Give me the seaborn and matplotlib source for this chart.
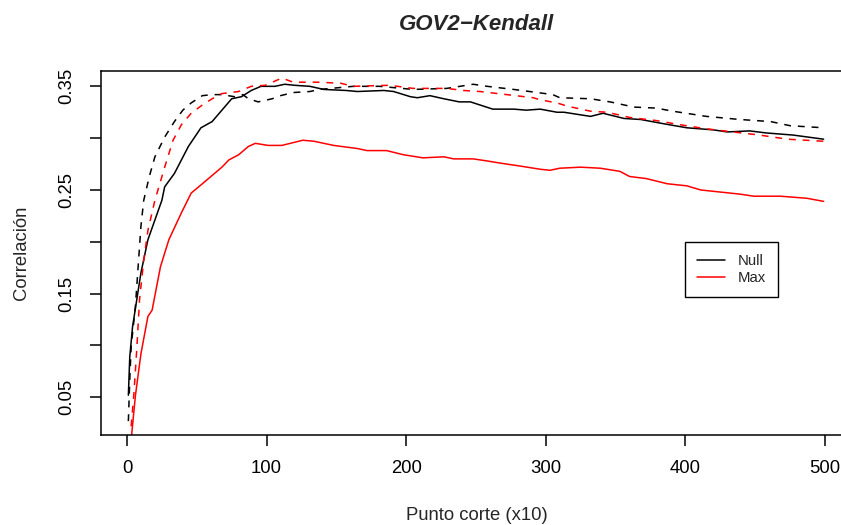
import matplotlib
matplotlib.use("Agg")
import matplotlib.pyplot as plt
from matplotlib.lines import Line2D
import seaborn as sns
import pandas as pd

# Cut point (x10) and Kendall correlation for each configuration
null_x = [1, 2, 4, 7, 10, 15, 20, 25, 27, 34, 44, 53, 61, 68, 75, 82, 89, 96, 106, 113, 120,
          131, 141, 157, 165, 184, 191, 203, 208, 217, 227, 238, 246, 262, 277, 286, 296, 308,
          313, 332, 341, 356, 368, 384, 401, 420, 430, 446, 458, 477, 499]
null_y = [0.052, 0.089, 0.118, 0.144, 0.170, 0.202, 0.221, 0.240, 0.253, 0.266, 0.292, 0.310,
          0.316, 0.327, 0.338, 0.340, 0.346, 0.350, 0.350, 0.352, 0.351,
          0.350, 0.347, 0.346, 0.345, 0.346, 0.345, 0.340, 0.339, 0.341, 0.338, 0.335, 0.335,
          0.328, 0.328, 0.327, 0.328, 0.325, 0.325, 0.321, 0.324, 0.319, 0.318, 0.314, 0.310,
          0.308, 0.306, 0.307, 0.305, 0.303, 0.299]

max_x = [3, 6, 10, 15, 18, 24, 30, 39, 46, 54, 61, 68, 73, 80, 87, 92, 101, 111, 120, 126,
         134, 148, 165, 172, 186, 198, 212, 227, 234, 248, 258, 267, 282, 296, 303, 310, 325,
         339, 353, 360, 372, 387, 401, 411, 425, 439, 449, 468, 487, 499]
max_y = [0.009, 0.051, 0.092, 0.128, 0.134, 0.176, 0.202, 0.228, 0.247, 0.256, 0.264, 0.272,
         0.279, 0.284, 0.292, 0.295, 0.293, 0.293, 0.296, 0.298,
         0.297, 0.293, 0.290, 0.288, 0.288, 0.284, 0.281, 0.282, 0.280, 0.280, 0.278, 0.276,
         0.273, 0.270, 0.269, 0.271, 0.272, 0.271, 0.268, 0.263, 0.261, 0.256, 0.254, 0.250,
         0.248, 0.246, 0.244, 0.244, 0.242, 0.239]

null_alt_x = [1, 2, 3, 6, 8, 10, 12, 16, 20, 27, 34, 40, 46, 54, 61, 68, 77, 83, 87, 94, 104,
              110, 119, 131, 138, 162, 181, 205, 229, 248, 258, 277, 294, 305, 310, 332, 346,
              363, 379, 391, 415, 439, 461, 475, 499]
null_alt_y = [0.027, 0.067, 0.099, 0.137, 0.176, 0.215, 0.240, 0.263, 0.282, 0.301, 0.316,
              0.327, 0.334, 0.341, 0.342, 0.342, 0.340, 0.342, 0.338, 0.335, 0.338,
              0.341, 0.344, 0.345, 0.347, 0.350, 0.350, 0.347, 0.348, 0.352, 0.350, 0.347,
              0.344, 0.342, 0.339, 0.338, 0.335, 0.330, 0.329, 0.326, 0.321, 0.318, 0.316,
              0.312, 0.310]

max_alt_x = [3, 5, 7, 9, 12, 15, 20, 27, 33, 39, 46, 54, 61, 68, 80, 89, 99, 111, 119, 136,
             153, 162, 188, 205, 229, 241, 253, 272, 291, 296, 308, 315, 332, 344, 360, 379,
             396, 415, 434, 453, 473, 499]
max_alt_y = [0.022, 0.054, 0.096, 0.144, 0.182, 0.211, 0.240, 0.272, 0.298, 0.313, 0.324,
             0.332, 0.338, 0.343, 0.345, 0.350, 0.351, 0.358, 0.354, 0.354,
             0.353, 0.350, 0.351, 0.348, 0.348, 0.346, 0.345, 0.342, 0.339, 0.337, 0.334,
             0.331, 0.326, 0.325, 0.320, 0.317, 0.313, 0.309, 0.306, 0.303, 0.299, 0.297]

x_ticks = [0, 100, 200, 300, 400, 500]
y_ticks = [0.05, 0.10, 0.15, 0.20, 0.25, 0.30, 0.35]
y_tick_labels = ["0.05", "", "0.15", "", "0.25", "", "0.35"]

sns.set_theme(style="white")
plt.rcParams["font.family"] = ["Liberation Sans", "DejaVu Sans"]
plt.rcParams["axes.edgecolor"] = "black"
plt.rcParams["axes.linewidth"] = 1.1

W, H = 841, 525
fig = plt.figure(figsize=(W / 100, H / 100), dpi=100)
left_px, right_px, top_px, bottom_px = 100.5, 852.9, 71.3, 435.0
ax = fig.add_axes([left_px / W, 1 - bottom_px / H,
                   (right_px - left_px) / W, (bottom_px - top_px) / H])

dash = (0, (4.5, 4.5))
series = [
    (null_x, null_y, "black", "-"),
    (max_x, max_y, "red", "-"),
    (null_alt_x, null_alt_y, "black", dash),
    (max_alt_x, max_alt_y, "red", dash),
]
for xs, ys, col, ls in series:
    df = pd.DataFrame({"x": xs, "y": ys})
    sns.lineplot(data=df, x="x", y="y", ax=ax, color=col, linestyle=ls,
                 linewidth=1.1, estimator=None, sort=False)

ax.set_xlim(-18.96, 519.96)
ax.set_ylim(0.0136, 0.3645)
ax.set_xticks(x_ticks)
ax.set_xticklabels([str(t) for t in x_ticks])
ax.set_yticks(y_ticks)
ax.set_yticklabels(y_tick_labels)
ax.tick_params(axis="both", direction="out", length=8, width=1.1, color="black",
               labelsize=13.3, labelcolor="black", bottom=True, left=True, pad=10.3)
for lab in ax.get_yticklabels():
    lab.set_rotation(90)
    lab.set_va("center")

for name, sp in ax.spines.items():
    sp.set_visible(name != "right")
    sp.set_color("black")
    sp.set_linewidth(1.1)

ax.set_xlabel("")
ax.set_ylabel("")
fig.text((left_px + right_px) / 2 / W, 1 - 24 / H, "GOV2\u2212Kendall",
         ha="center", va="center", fontsize=16, fontweight="bold", fontstyle="italic")
fig.text((left_px + right_px) / 2 / W, 1 - 515.5 / H, "Punto corte (x10)",
         ha="center", va="center", fontsize=13.3)
fig.text(21.7 / W, 1 - ((top_px + bottom_px) / 2) / H, "Correlación",
         ha="center", va="center", rotation=90, fontsize=13.3)

handles = [Line2D([], [], color="black", lw=1.1), Line2D([], [], color="red", lw=1.1)]
leg = ax.legend(handles, ["Null", "Max"], loc="upper left",
                bbox_to_anchor=((684.7 - left_px) / (right_px - left_px),
                                (bottom_px - 242.3) / (bottom_px - top_px)),
                borderaxespad=0, fontsize=10.7, frameon=True, fancybox=False,
                edgecolor="black", framealpha=1, handlelength=1.9,
                handletextpad=0.9, borderpad=0.8, labelspacing=0.2)
leg.get_frame().set_linewidth(1.0)

fig.savefig("out.png", dpi=100)
